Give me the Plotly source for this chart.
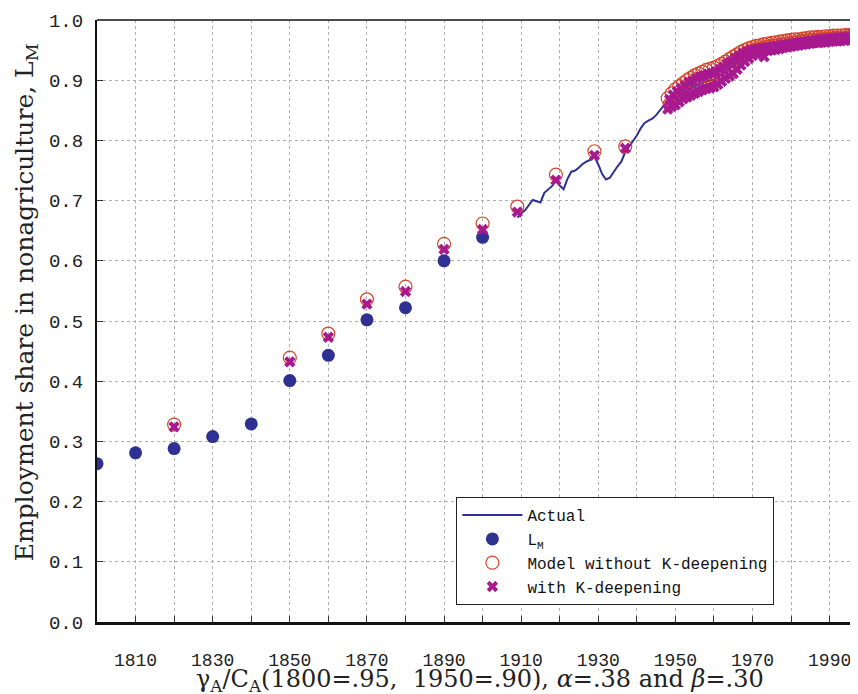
import plotly.graph_objects as go

# ---------------- data ----------------
lm_years = [1800, 1810, 1820, 1830, 1840, 1850, 1860, 1870, 1880, 1890, 1900]
lm_values = [0.263, 0.281, 0.288, 0.308, 0.329, 0.401, 0.443, 0.502, 0.522, 0.600, 0.639]

model_years_early = [1820, 1850, 1860, 1870, 1880, 1890, 1900, 1909, 1919, 1929, 1937]
model_nok_early = [0.328, 0.439, 0.479, 0.536, 0.557, 0.628, 0.662, 0.690, 0.743, 0.782, 0.790]
model_k_early = [0.324, 0.432, 0.473, 0.528, 0.549, 0.619, 0.652, 0.681, 0.734, 0.775, 0.787]

# post-war (two readings per year: upper and lower edge of the band)
late_years = list(range(1948, 1998))
nok_late_hi = [0.870, 0.878, 0.885, 0.890, 0.895, 0.900, 0.904, 0.908, 0.911, 0.914,
               0.917, 0.919, 0.921, 0.924, 0.927, 0.931, 0.935, 0.939, 0.943, 0.947,
               0.950, 0.953, 0.955, 0.957, 0.958, 0.960, 0.961, 0.962, 0.963, 0.964,
               0.965, 0.966, 0.967, 0.968, 0.968, 0.969, 0.970, 0.971, 0.971, 0.972,
               0.972, 0.973, 0.973, 0.974, 0.974, 0.974, 0.975, 0.975, 0.975, 0.976]
nok_late_lo = [0.860, 0.866, 0.872, 0.878, 0.884, 0.889, 0.893, 0.897, 0.900, 0.903,
               0.905, 0.907, 0.909, 0.913, 0.917, 0.921, 0.925, 0.930, 0.935, 0.940,
               0.944, 0.947, 0.950, 0.952, 0.953, 0.955, 0.956, 0.957, 0.958, 0.959,
               0.960, 0.961, 0.962, 0.963, 0.964, 0.965, 0.966, 0.967, 0.967, 0.968,
               0.968, 0.969, 0.969, 0.970, 0.970, 0.970, 0.971, 0.971, 0.971, 0.972]
k_late_hi = [0.868, 0.875, 0.881, 0.886, 0.891, 0.896, 0.899, 0.903, 0.906, 0.908,
             0.910, 0.912, 0.914, 0.918, 0.922, 0.927, 0.931, 0.936, 0.940, 0.944,
             0.947, 0.950, 0.951, 0.952, 0.953, 0.954, 0.955, 0.956, 0.957, 0.958,
             0.959, 0.960, 0.961, 0.962, 0.963, 0.964, 0.965, 0.966, 0.967, 0.968,
             0.968, 0.969, 0.970, 0.970, 0.971, 0.971, 0.971, 0.972, 0.972, 0.972]
k_late_lo = [0.852, 0.856, 0.859, 0.864, 0.869, 0.872, 0.875, 0.878, 0.881, 0.884,
             0.886, 0.887, 0.889, 0.893, 0.898, 0.903, 0.907, 0.911, 0.918, 0.925,
             0.931, 0.936, 0.941, 0.944, 0.947, 0.939, 0.949, 0.950, 0.951, 0.952,
             0.954, 0.955, 0.956, 0.957, 0.958, 0.959, 0.960, 0.961, 0.962, 0.962,
             0.963, 0.963, 0.964, 0.965, 0.965, 0.966, 0.966, 0.967, 0.967, 0.967]

actual_years = list(range(1909, 1998))
actual_values = [0.672, 0.679, 0.684, 0.693, 0.701, 0.699, 0.697, 0.713, 0.719, 0.724,
                 0.735, 0.725, 0.719, 0.736, 0.748, 0.750, 0.755, 0.761, 0.765, 0.768,
                 0.773, 0.760, 0.744, 0.735, 0.738, 0.748, 0.757, 0.765, 0.781, 0.790,
                 0.799, 0.808, 0.820, 0.829, 0.833, 0.836, 0.842, 0.851, 0.858, 0.862,
                 0.866, 0.870, 0.875, 0.880, 0.884, 0.887, 0.890, 0.893, 0.896, 0.898,
                 0.900, 0.901, 0.905, 0.910, 0.915, 0.919, 0.924, 0.929, 0.935, 0.940,
                 0.943, 0.946, 0.948, 0.950, 0.951, 0.953, 0.954, 0.955, 0.956, 0.957,
                 0.958, 0.959, 0.960, 0.961, 0.962, 0.963, 0.964, 0.965, 0.965, 0.966,
                 0.966, 0.967, 0.967, 0.968, 0.968, 0.969, 0.969, 0.970, 0.970]

x_tick_vals = list(range(1810, 2000, 10))
x_tick_text = [str(v) if (v - 1810) % 20 == 0 else "" for v in x_tick_vals]
y_tick_vals = [0.0, 0.1, 0.2, 0.3, 0.4, 0.5, 0.6, 0.7, 0.8, 0.9, 1.0]

x_title = "γ<sub>A</sub>/C<sub>A</sub>(1800=.95,  1950=.90), <i>α</i>=.38 and <i>β</i>=.30"
y_title = "Employment share in nonagriculture, L<sub>M</sub>"

# ---------------- build series ----------------
late_x = []
nok_late = []
k_late = []
for i, yr in enumerate(late_years):
    late_x += [yr, yr + 0.5]
    nok_late += [nok_late_hi[i], nok_late_lo[i]]
    k_late += [k_late_lo[i], k_late_hi[i]]

nok_x = model_years_early + late_x
nok_y = model_nok_early + nok_late
k_x = model_years_early + late_x
k_y = model_k_early + k_late

BLUE = "#2e3192"
RED = "#d4452a"
MAGENTA = "#a8198f"

fig = go.Figure()
fig.add_trace(go.Scatter(x=actual_years, y=actual_values, mode="lines",
                         line=dict(color=BLUE, width=2), name="Actual"))
fig.add_trace(go.Scatter(x=lm_years, y=lm_values, mode="markers",
                         marker=dict(color=BLUE, size=13, line=dict(width=0)),
                         name="L<sub>M</sub>"))
fig.add_trace(go.Scatter(x=nok_x, y=nok_y, mode="markers",
                         marker=dict(symbol="circle-open", color=RED, size=13,
                                     line=dict(width=1.2, color=RED)),
                         name="Model without K-deepening"))
fig.add_trace(go.Scatter(x=k_x, y=k_y, mode="markers",
                         marker=dict(symbol="x", color=MAGENTA, size=10,
                                     line=dict(width=0)),
                         name="with K-deepening"))

serif = "DejaVu Serif"
mono = "Liberation Mono"
fig.update_layout(
    width=850, height=686,
    margin=dict(l=89, r=0, t=12, b=72, autoexpand=False),
    paper_bgcolor="white", plot_bgcolor="white",
    showlegend=True,
    legend=dict(x=0.472, y=0.2076, xanchor="left", yanchor="top",
                bordercolor="#222", borderwidth=1.2, bgcolor="white",
                font=dict(family=mono, size=16, color="#111"),
                itemwidth=60, tracegroupgap=0),
    font=dict(family=serif, color="#222"),
)
fig.update_xaxes(
    range=[1800, 1997.35], tickmode="array", tickvals=x_tick_vals, ticktext=x_tick_text,
    automargin=False,
    showgrid=True, gridcolor="#b0b0b0", griddash="dot", gridwidth=1,
    showline=True, linecolor="#111", linewidth=3,
    ticks="inside", ticklen=6, tickcolor="#333",
    tickfont=dict(family=mono, size=18, color="#222"),
    ticklabelstandoff=19,
    zeroline=False,
)
fig.update_yaxes(
    range=[0, 1], tickmode="array", tickvals=y_tick_vals, tickformat=".1f",
    automargin=False,
    showgrid=True, gridcolor="#b0b0b0", griddash="dot", gridwidth=1,
    showline=True, linecolor="#111", linewidth=2,
    ticks="inside", ticklen=6, tickcolor="#333",
    tickfont=dict(family=mono, size=19, color="#222"),
    ticklabelstandoff=8,
    zeroline=False,
)
fig.add_annotation(text=y_title, xref="paper", yref="paper", x=-0.094, y=0.532,
                   xanchor="center", yanchor="middle", textangle=-90, showarrow=False,
                   font=dict(family=serif, size=25, color="#222"))
fig.add_annotation(text=x_title, xref="paper", yref="paper", x=0.503, y=-0.097,
                   xanchor="center", yanchor="middle", showarrow=False,
                   font=dict(family=serif, size=24, color="#222"))
fig.add_shape(type="line", xref="paper", yref="paper", x0=0, x1=1, y0=1, y1=1,
              line=dict(color="#111", width=1.5))

fig.write_html("out.html")
